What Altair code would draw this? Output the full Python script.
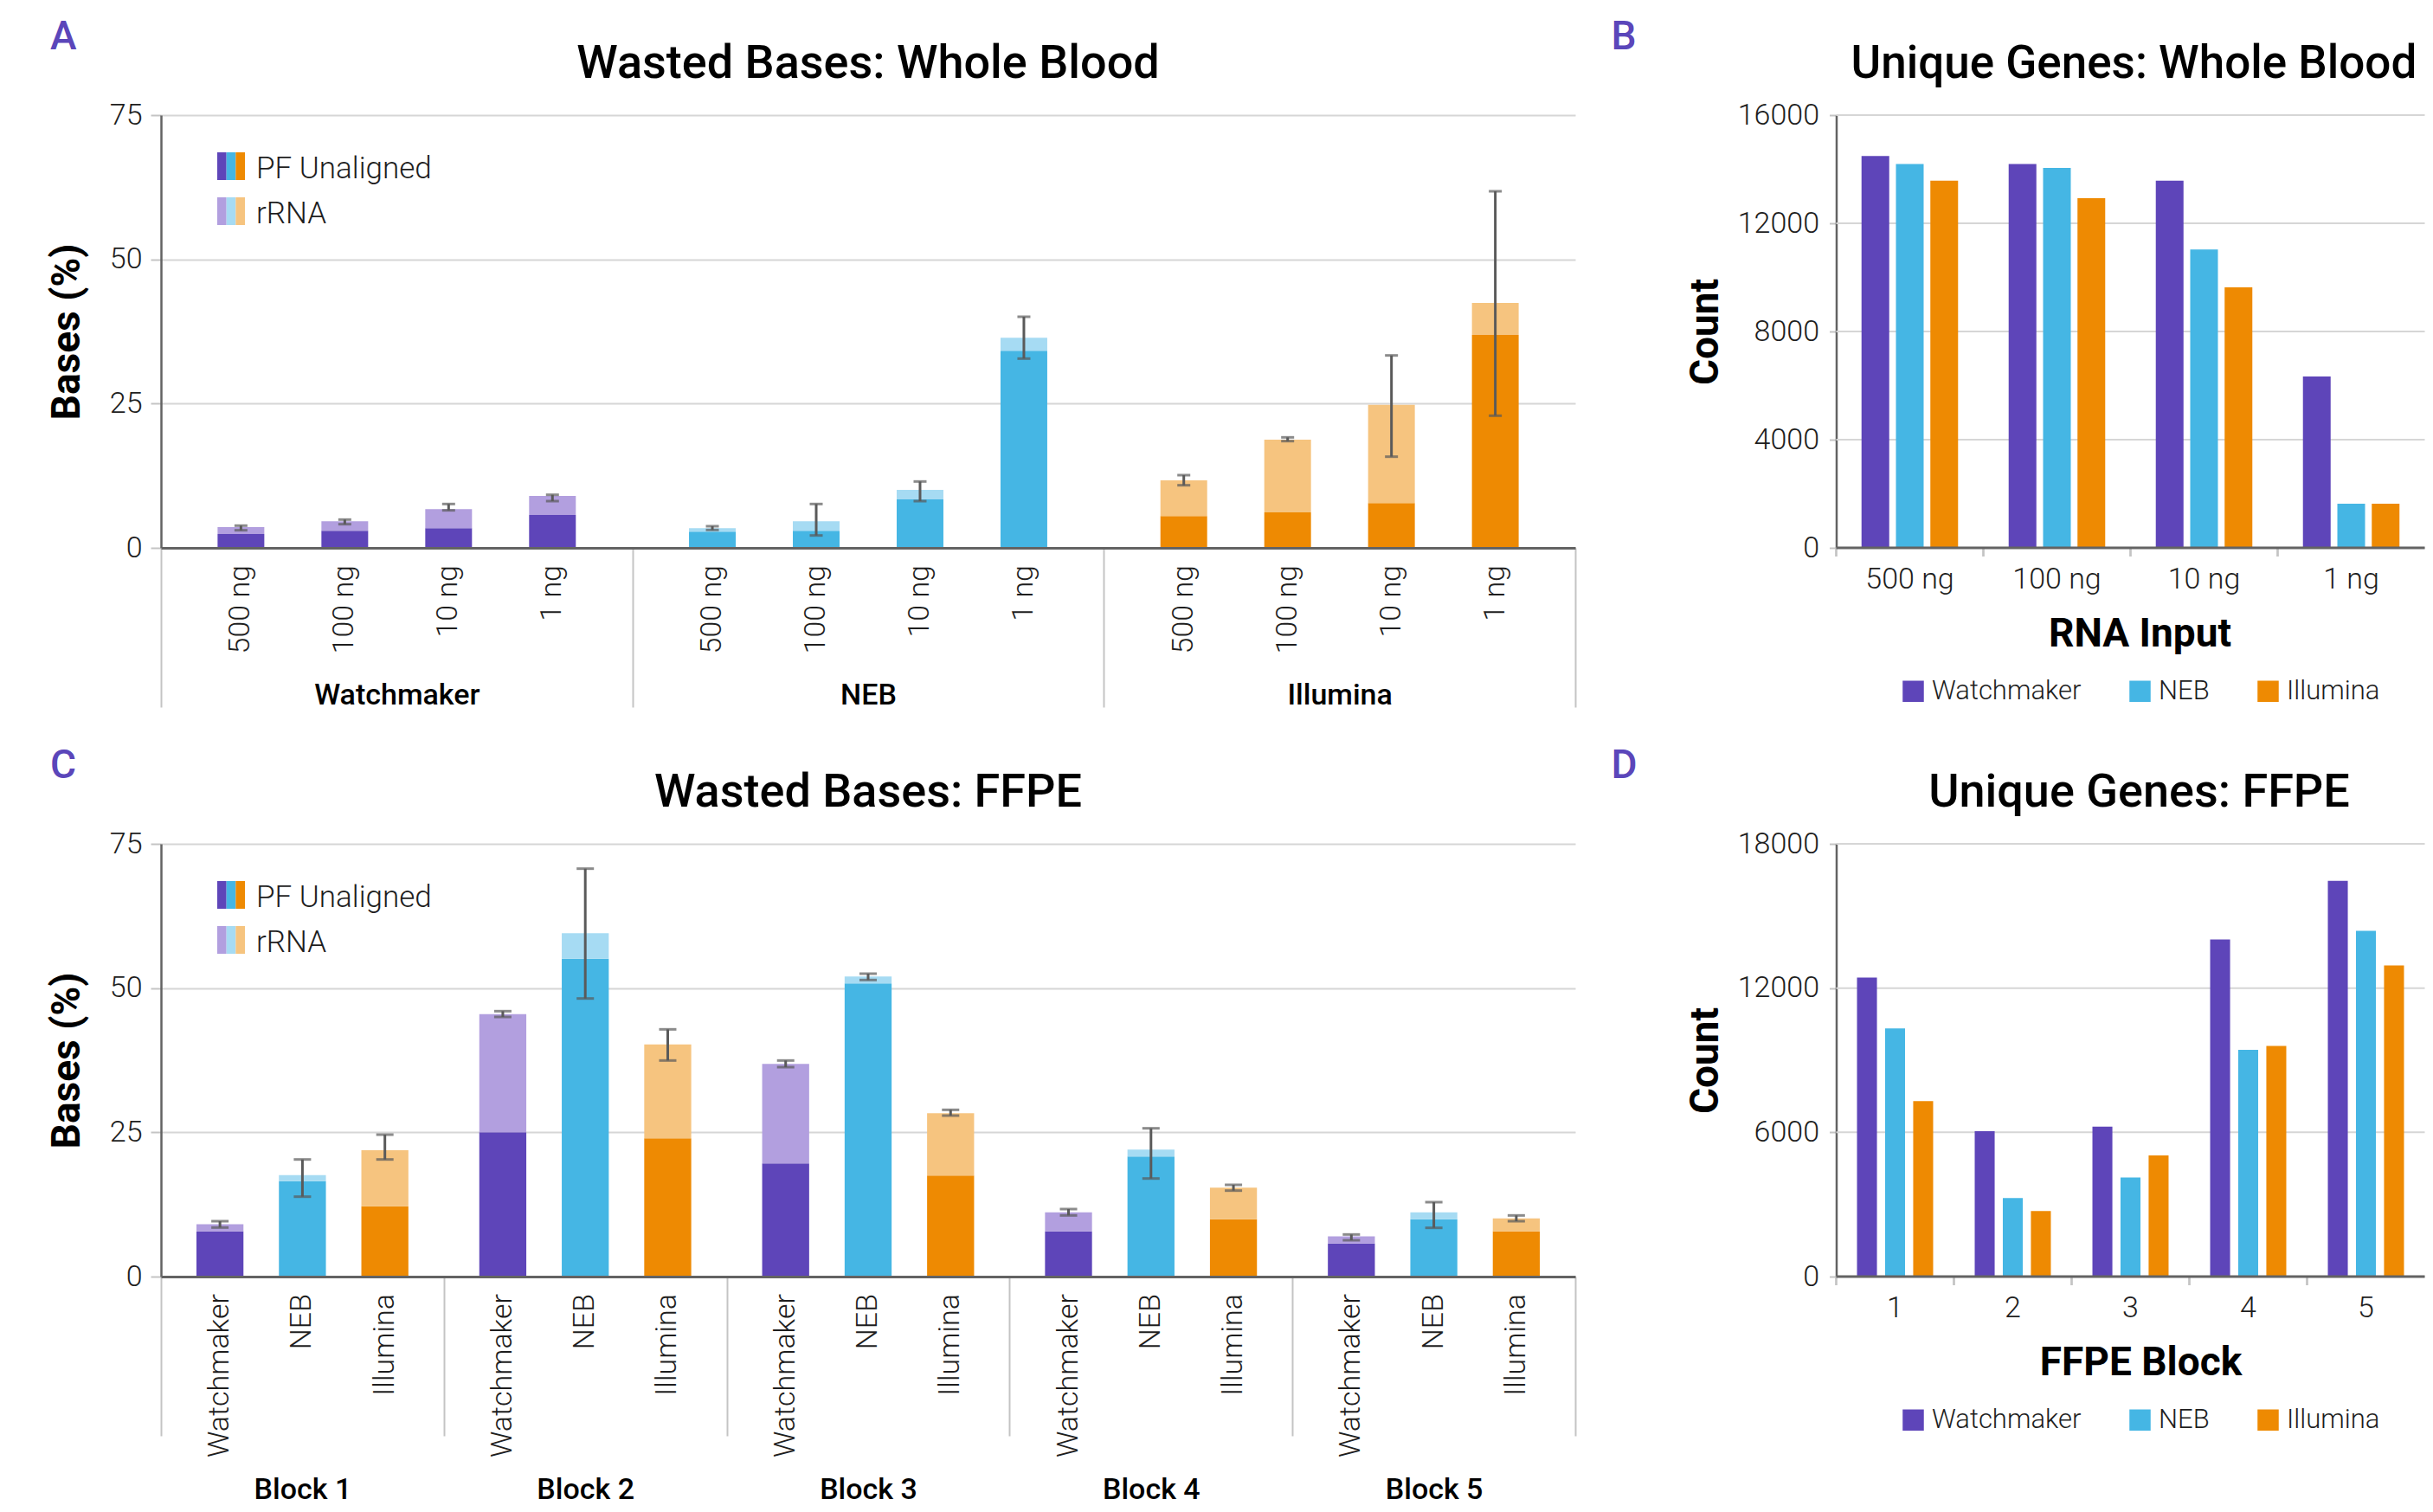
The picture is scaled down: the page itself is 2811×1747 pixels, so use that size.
import altair as alt
import pandas as pd

KITS = ["Watchmaker", "NEB", "Illumina"]
DARK = ["#5E45B9", "#45B6E4", "#EE8A02"]
LIGHT = ["#B29FDF", "#A6DBF3", "#F6C47F"]
AXIS_C = "#636363"
GRID_C = "#D6D6D6"
TICK_C = "#C4C4C4"
ERR_C = "#5A5A5A"
TEXT_C = "#1E1E1E"
LETTER_C = "#5B46BA"

# ---------------- Panel A: Wasted bases, whole blood ----------------
wb_inputs = ["500 ng", "100 ng", "10 ng", "1 ng"]
wb_pf_watchmaker = [2.4, 2.95, 3.4, 5.7]
wb_rrna_watchmaker = [1.2, 1.65, 3.3, 3.3]
wb_pf_neb = [2.8, 2.95, 8.4, 34.15]
wb_rrna_neb = [0.6, 1.65, 1.65, 2.25]
wb_pf_illumina = [5.5, 6.15, 7.75, 36.9]
wb_rrna_illumina = [6.2, 12.6, 17.05, 5.55]
wb_lo_watchmaker = [3.05, 4.1, 6.5, 8.1]
wb_hi_watchmaker = [3.85, 4.9, 7.6, 9.2]
wb_lo_neb = [3.1, 2.15, 8.1, 32.8]
wb_hi_neb = [3.75, 7.6, 11.5, 40.05]
wb_lo_illumina = [10.85, 18.5, 15.8, 22.9]
wb_hi_illumina = [12.6, 19.15, 33.35, 61.8]

# ---------------- Panel C: Wasted bases, FFPE ----------------
ffpe_blocks = ["Block 1", "Block 2", "Block 3", "Block 4", "Block 5"]
ffpe_pf_watchmaker = [7.84, 25.0, 19.6, 7.84, 5.75]
ffpe_rrna_watchmaker = [1.22, 20.5, 17.25, 3.31, 1.22]
ffpe_pf_neb = [16.55, 55.1, 50.8, 20.8, 9.93]
ffpe_rrna_neb = [1.05, 4.4, 1.2, 1.2, 1.22]
ffpe_pf_illumina = [12.2, 23.95, 17.5, 9.93, 7.84]
ffpe_rrna_illumina = [9.7, 16.3, 10.8, 5.47, 2.26]
ffpe_lo_watchmaker = [8.5, 45.0, 36.3, 10.6, 6.3]
ffpe_hi_watchmaker = [9.6, 46.0, 37.45, 11.7, 7.3]
ffpe_lo_neb = [13.85, 48.2, 51.4, 17.0, 8.45]
ffpe_hi_neb = [20.3, 70.7, 52.5, 25.7, 12.9]
ffpe_lo_illumina = [20.3, 37.45, 27.9, 14.9, 9.6]
ffpe_hi_illumina = [24.6, 42.85, 28.9, 15.9, 10.6]

# ---------------- Panel B: Unique genes, whole blood ----------------
genes_wb_watchmaker = [14490, 14190, 13580, 6340]
genes_wb_neb = [14190, 14050, 11030, 1630]
genes_wb_illumina = [13580, 12930, 9630, 1630]

# ---------------- Panel D: Unique genes, FFPE ----------------
ffpe_block_nums = ["1", "2", "3", "4", "5"]
genes_ffpe_watchmaker = [12440, 6050, 6240, 14020, 16460]
genes_ffpe_neb = [10320, 3270, 4120, 9430, 14380]
genes_ffpe_illumina = [7300, 2730, 5040, 9590, 12940]

# ---------------- tables ----------------
rows = []
for k, pf, rr, lo, hi in zip(
    KITS,
    [wb_pf_watchmaker, wb_pf_neb, wb_pf_illumina],
    [wb_rrna_watchmaker, wb_rrna_neb, wb_rrna_illumina],
    [wb_lo_watchmaker, wb_lo_neb, wb_lo_illumina],
    [wb_hi_watchmaker, wb_hi_neb, wb_hi_illumina],
):
    for i, inp in enumerate(wb_inputs):
        rows.append(dict(group=k, sub=inp, kit=k, pf=pf[i], total=round(pf[i] + rr[i], 3), lo=lo[i], hi=hi[i]))
df_wb = pd.DataFrame(rows)

rows = []
for k, pf, rr, lo, hi in zip(
    KITS,
    [ffpe_pf_watchmaker, ffpe_pf_neb, ffpe_pf_illumina],
    [ffpe_rrna_watchmaker, ffpe_rrna_neb, ffpe_rrna_illumina],
    [ffpe_lo_watchmaker, ffpe_lo_neb, ffpe_lo_illumina],
    [ffpe_hi_watchmaker, ffpe_hi_neb, ffpe_hi_illumina],
):
    for i, b in enumerate(ffpe_blocks):
        rows.append(dict(group=b, sub=k, kit=k, pf=pf[i], total=round(pf[i] + rr[i], 3), lo=lo[i], hi=hi[i]))
df_ff = pd.DataFrame(rows)

rows = []
for k, vals in zip(KITS, [genes_wb_watchmaker, genes_wb_neb, genes_wb_illumina]):
    for c, v in zip(wb_inputs, vals):
        rows.append(dict(cat=c, kit=k, count=v))
df_gwb = pd.DataFrame(rows)

rows = []
for k, vals in zip(KITS, [genes_ffpe_watchmaker, genes_ffpe_neb, genes_ffpe_illumina]):
    for c, v in zip(ffpe_block_nums, vals):
        rows.append(dict(cat=c, kit=k, count=v))
df_gff = pd.DataFrame(rows)

one = pd.DataFrame({"a": [0]})


def text_layer(txt, x, y, size, weight, color, align="left"):
    return alt.Chart(one).mark_text(
        text=txt, fontSize=size, fontWeight=weight, color=color, align=align,
        baseline="alphabetic", font="Roboto"
    ).encode(x=alt.value(x), y=alt.value(y))


def rect_layer(x0, x1, y0, y1, color, opacity=1.0):
    return alt.Chart(one).mark_rect(color=color, opacity=opacity).encode(
        x=alt.value(x0), x2=alt.value(x1), y=alt.value(y0), y2=alt.value(y1)
    )


def wasted_panel(df, groups, subs, pi, po, cap, grp_pad, title, letter, anchor=False):
    W, H = 1634, 500
    x = alt.X("group:N", sort=groups, scale=alt.Scale(paddingInner=0, paddingOuter=0),
              axis=alt.Axis(title=None, orient="bottom", labelAngle=0, tickBand="extent",
                            tickSize=184, tickColor=TICK_C, tickWidth=2, labelPadding=grp_pad,
                            labelBaseline="alphabetic", labelFontSize=34, labelFontWeight=500,
                            labelColor="#000", labelLimit=0, domainColor=AXIS_C, domainWidth=3,
                            grid=False, zindex=1))
    xo = alt.XOffset("sub:N", sort=subs, scale=alt.Scale(paddingInner=pi, paddingOuter=po))
    yscale = alt.Scale(domain=[0, 75], nice=False)
    yaxis = alt.Axis(values=[0, 25, 50, 75], title="Bases (%)", grid=True, gridColor=GRID_C,
                     gridWidth=2, domainColor=AXIS_C, domainWidth=2.5, tickColor=TICK_C,
                     tickSize=12, tickWidth=2, labelPadding=10, labelFontSize=34,
                     labelFontWeight=300, labelColor=TEXT_C, titleFontSize=46,
                     titleFontWeight="bold", titleColor="#000", titleAngle=270,
                     titleAlign="center", titleBaseline="alphabetic", titleX=-95, titleY=H / 2)

    def Y(f):
        return alt.Y(f + ":Q", scale=yscale, axis=yaxis)

    base = alt.Chart(df)
    dark = base.mark_bar().encode(
        x=x, xOffset=xo, y=Y("pf"),
        color=alt.Color("kit:N", scale=alt.Scale(domain=KITS, range=DARK), legend=None))
    light = base.mark_bar().encode(
        x=x, xOffset=xo, y=Y("pf"), y2="total:Q",
        fill=alt.Fill("kit:N", scale=alt.Scale(domain=KITS, range=LIGHT), legend=None))
    err = base.mark_rule(color=ERR_C, strokeWidth=3).encode(x=x, xOffset=xo, y=Y("lo"), y2="hi:Q")
    cap_lo = base.mark_tick(color=ERR_C, thickness=3, size=cap, orient="horizontal").encode(
        x=x, xOffset=xo, y=Y("lo"))
    cap_hi = base.mark_tick(color=ERR_C, thickness=3, size=cap, orient="horizontal").encode(
        x=x, xOffset=xo, y=Y("hi"))
    labels = base.mark_text(angle=270, align="right", baseline="middle", fontSize=34,
                            fontWeight=300, color=TEXT_C, font="Roboto").encode(
        x=x, xOffset=xo, y=alt.value(H + 20), text="sub:N")

    layers = [dark, light, err, cap_lo, cap_hi, labels]
    # legend: three-colour stripes
    sw = 32.0 / 3
    for j in range(3):
        layers.append(rect_layer(65 + j * sw, 65 + (j + 1) * sw, 43, 75, DARK[j]))
        layers.append(rect_layer(65 + j * sw, 65 + (j + 1) * sw, 95, 127, LIGHT[j]))
    layers.append(text_layer("PF Unaligned", 110, 72.5, 35, 300, TEXT_C))
    layers.append(text_layer("rRNA", 110, 125, 35, 300, TEXT_C))
    layers.append(text_layer(title, W / 2, -43, 54, 500, "#000", align="center"))
    layers.append(text_layer(letter, -128, -76, 46, 500, LETTER_C))
    if anchor:
        layers.append(rect_layer(-178, -170, -125, -120, "#ffffff", opacity=0))
    return alt.layer(*layers).properties(width=W, height=H)


def genes_panel(df, cats, step, plot_w, pi, po, ymax, yvals, xtitle, title, title_x,
                title_align, title_size, letter):
    H = 500
    n = len(cats)
    # negative outer padding (aligned left) keeps the category step of the
    # original figure while the plotted area stops at the window edge
    outer = (plot_w / step - n) / 2.0
    xscale = alt.Scale(paddingInner=0, paddingOuter=alt.ExprRef(expr="%.5f" % outer), align=0)
    xaxis = alt.Axis(title=xtitle, labelAngle=0, ticks=False, domain=False, labelPadding=46,
                     labelBaseline="alphabetic", labelFontSize=34, labelFontWeight=300,
                     labelColor=TEXT_C, labelLimit=0, titleX=step * n / 2, titleY=113,
                     titleAlign="center", titleBaseline="alphabetic", titleFontSize=46,
                     titleFontWeight="bold", titleColor="#000", grid=False)
    x = alt.X("cat:N", sort=cats, scale=xscale, axis=xaxis)
    x_edge = alt.X("cat:N", sort=cats, scale=xscale, axis=xaxis, bandPosition=0)
    xo = alt.XOffset("kit:N", sort=KITS, scale=alt.Scale(paddingInner=pi, paddingOuter=po))
    yscale = alt.Scale(domain=[0, ymax], nice=False)
    yaxis = alt.Axis(values=yvals, format="d", title="Count", grid=False,
                     domainColor=AXIS_C, domainWidth=2.5, tickColor=TICK_C,
                     tickSize=8, tickWidth=2, labelPadding=12, labelFontSize=34,
                     labelFontWeight=300, labelColor=TEXT_C, titleFontSize=46,
                     titleFontWeight="bold", titleColor="#000", titleAngle=270,
                     titleAlign="center", titleBaseline="alphabetic", titleX=-137.5,
                     titleY=H / 2)
    grid = alt.Chart(pd.DataFrame({"v": yvals})).mark_rule(color=GRID_C, strokeWidth=2).encode(
        y=alt.Y("v:Q", scale=yscale, axis=yaxis), x=alt.value(0), x2=alt.value(plot_w))
    bars = alt.Chart(df).mark_bar().encode(
        x=x, xOffset=xo, y=alt.Y("count:Q", scale=yscale, axis=yaxis),
        color=alt.Color("kit:N", scale=alt.Scale(domain=KITS, range=DARK),
                        legend=alt.Legend(orient="none", legendX=73.5, legendY=650,
                                          direction="horizontal", title=None,
                                          symbolType="square", symbolSize=600,
                                          symbolStrokeWidth=0, symbolOpacity=1,
                                          labelFontSize=31, labelFontWeight=300,
                                          labelColor=TEXT_C, labelLimit=0, columnPadding=52,
                                          labelOffset=6, padding=0)))
    ticks = alt.Chart(df).mark_rule(color=TICK_C, strokeWidth=2).encode(
        x=x_edge, y=alt.value(H), y2=alt.value(H + 10))
    domain_line = alt.Chart(one).mark_rule(color=AXIS_C, strokeWidth=3).encode(
        x=alt.value(0), x2=alt.value(plot_w), y=alt.value(H))
    layers = [grid, bars, ticks, domain_line,
              text_layer(title, title_x, -43, title_size, 500, "#000", align=title_align),
              text_layer(letter, -260, -76, 46, 500, LETTER_C)]
    return alt.layer(*layers).properties(width=plot_w, height=H)


panel_a = wasted_panel(df_wb, KITS, wb_inputs, 0.55, 0.545, 15, -4,
                       "Wasted Bases: Whole Blood", "A", anchor=True)
panel_c = wasted_panel(df_ff, ffpe_blocks, KITS, 0.43, 0.43, 20, 72,
                       "Wasted Bases: FFPE", "C")
panel_b = genes_panel(df_gwb, wb_inputs, 175.25, 680, 0.195, 0.735, 16000,
                      [0, 4000, 8000, 12000, 16000], "RNA Input",
                      "Unique Genes: Whole Blood", 17, "left", 53, "B")
panel_d = genes_panel(df_gff, ffpe_block_nums, 140.6, 680, 0.29, 0.74, 18000,
                      [0, 6000, 12000, 18000], "FFPE Block",
                      "Unique Genes: FFPE", 350, "center", 54, "D")

chart = alt.concat(
    panel_a, panel_b, panel_c, panel_d,
    columns=2, spacing={"row": 342, "column": 301.5}, bounds="flush", align="each",
).resolve_scale(
    color="independent", fill="independent", xOffset="independent"
).properties(
    padding={"left": 0, "top": 0, "right": 0, "bottom": 0}
).configure(font="Roboto", background="white").configure_view(strokeWidth=0)

chart.save("out.html", embed_options={"renderer": "svg", "actions": False})
